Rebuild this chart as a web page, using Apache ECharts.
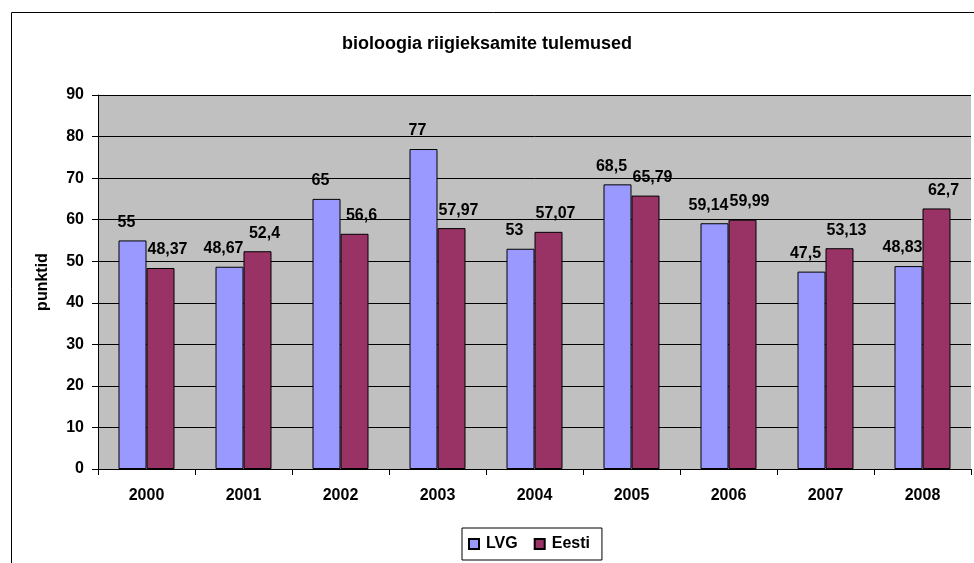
<!DOCTYPE html>
<html>
<head>
<meta charset="utf-8">
<script src="https://cdn.jsdelivr.net/npm/echarts@6/dist/echarts.min.js"></script>
<style>
  html, body { margin: 0; padding: 0; background: #fff; }
  #chart { width: 974px; height: 563px; }
</style>
</head>
<body>
<div id="chart"></div>
<script>
// --- data ---
const years = ['2000', '2001', '2002', '2003', '2004', '2005', '2006', '2007', '2008']
const lvg = [55, 48.67, 65, 77, 53, 68.5, 59.14, 47.5, 48.83]
const eesti = [48.37, 52.4, 56.6, 57.97, 57.07, 65.79, 59.99, 53.13, 62.7]

const font = 'Liberation Sans, Arial, sans-serif'
const fmt = p => String(p.value).replace('.', ',')

const chart = echarts.init(document.getElementById('chart'))

// Excel-like value labels, nudged a bit apart
const makeLabel = dx => ({
  show: true,
  position: 'top',
  distance: 10,
  offset: [dx, 0],
  color: '#000',
  fontFamily: font,
  fontSize: 16,
  fontWeight: 'bold',
  formatter: fmt
})

const axisText = { color: '#000', fontFamily: font, fontSize: 16, fontWeight: 'bold' }

chart.setOption({
  animation: false,
  backgroundColor: '#fff',
  graphic: [{
    type: 'rect',
    left: 9, top: 10,
    shape: { width: 1000, height: 600 },
    style: { fill: 'none', stroke: '#000', lineWidth: 1 },
    silent: true
  }],
  title: {
    text: 'bioloogia riigieksamite tulemused',
    left: 'center',
    top: 30,
    textStyle: { fontFamily: font, fontSize: 18, fontWeight: 'bold', color: '#000' }
  },
  legend: {
    data: ['LVG', 'Eesti'],
    left: 462, top: 528,
    padding: [8, 12, 8, 6],
    itemGap: 16,
    itemWidth: 10, itemHeight: 10,
    borderColor: '#000', borderWidth: 1,
    backgroundColor: '#fff',
    textStyle: { ...axisText, padding: [0, 0, 0, 2] },
    icon: 'rect'
  },
  grid: { left: 98, right: 3, top: 95, bottom: 94, backgroundColor: '#C0C0C0', show: true, borderWidth: 0 },
  xAxis: {
    type: 'category',
    data: years,
    axisLine: { lineStyle: { color: '#000', width: 1 } },
    axisTick: { show: true, length: 6, lineStyle: { color: '#000' } },
    axisLabel: { ...axisText, margin: 19 }
  },
  yAxis: {
    type: 'value',
    min: 0, max: 90, interval: 10,
    name: 'punktid',
    nameLocation: 'middle',
    nameGap: 47,
    nameRotate: 90,
    nameTextStyle: axisText,
    axisLine: { show: true, lineStyle: { color: '#000', width: 1 } },
    axisTick: { show: true, length: 6, lineStyle: { color: '#000' } },
    axisLabel: { ...axisText, margin: 14 },
    splitLine: { show: true, lineStyle: { color: '#000', width: 1 } }
  },
  series: [
    {
      name: 'LVG', type: 'bar', data: lvg,
      barWidth: 28, barGap: '0%',
      itemStyle: { color: '#9999FF', borderColor: '#000', borderWidth: 1 },
      label: makeLabel(-6)
    },
    {
      name: 'Eesti', type: 'bar', data: eesti,
      barWidth: 28,
      itemStyle: { color: '#993366', borderColor: '#000', borderWidth: 1 },
      label: makeLabel(7)
    }
  ]
})
</script>
</body>
</html>
